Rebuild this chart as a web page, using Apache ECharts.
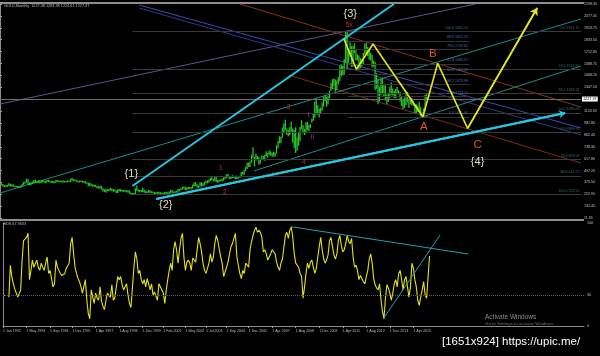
<!DOCTYPE html>
<html><head><meta charset="utf-8">
<script src="https://cdn.jsdelivr.net/npm/echarts@6/dist/echarts.min.js"></script>
<style>html,body{margin:0;padding:0;background:#000;}#c{width:600px;height:356px;}</style>
</head><body><div id="c"></div>
<script>
// ---------- DATA ----------
const startYear = 1992; // bar 0 = Jan 1992, one bar per month
const monthNames = ['Jan','Feb','Mar','Apr','May','Jun','Jul','Aug','Sep','Oct','Nov','Dec'];
const lows = [
351,350,338,333,333,336,342,338,340,337,330,330,
326,326,326,335,355,366,378,355,350,351,365,370,
376,374,376,372,374,383,380,372,383,385,380,375,
372,372,375,387,380,385,381,380,380,381,382,384,
386,397,394,390,388,381,380,384,378,378,369,366,
342,342,347,337,337,333,318,317,318,307,289,283,
276,290,293,298,293,285,287,271,273,287,286,284,
284,285,278,278,266,256,252,252,254,295,288,278,
280,283,276,270,269,274,276,272,270,262,262,265,
263,255,255,255,262,263,265,263,271,275,270,272,
277,281,290,300,307,316,300,302,312,314,314,318,
341,343,327,324,336,342,342,351,371,372,380,393,
399,393,392,385,374,387,391,390,399,413,424,432,
416,412,425,422,414,416,417,429,433,459,459,495,
517,538,539,582,632,543,604,613,562,573,613,614,
603,647,636,664,654,642,647,642,674,729,780,784,
835,887,915,865,851,862,898,786,736,681,705,755,
800,923,881,865,880,913,904,935,994,1008,1042,1075,
1073,1045,1088,1114,1154,1208,1155,1176,1241,1316,1334,1363,
1308,1326,1381,1418,1463,1478,1480,1603,1535,1605,1668,1562,
1562,1699,1626,1627,1526,1547,1564,1590,1687,1693,1671,1635,
1626,1555,1562,1321,1338,1180,1207,1273,1291,1250,1221,1183,
1202,1240,1277,1268,1240,1240,1281,1280,1207,1161,1131,1142,
1167,1198,1142,1178,1170,1162,1077,1081,1099,1112,1053,1046,
1061,1107,1224];
const highs = [
362,360,355,344,341,345,362,359,351,349,339,337,
334,334,338,358,378,381,409,406,372,373,378,395,
397,386,392,390,389,396,389,388,396,396,390,385,
384,379,396,395,390,391,389,389,386,386,389,389,
409,418,405,400,394,390,387,389,387,385,384,373,
369,366,359,349,350,345,336,332,336,335,312,300,
306,303,302,315,309,302,297,290,300,304,302,296,
293,293,290,291,290,267,263,262,310,338,300,294,
294,316,298,286,278,294,290,281,277,274,270,275,
273,270,268,265,273,275,270,278,295,294,279,281,
283,302,304,311,327,328,323,318,327,324,323,350,
370,374,352,340,372,372,362,377,391,392,400,417,
428,409,427,428,396,400,399,413,420,433,454,456,
429,436,445,437,431,441,430,438,476,479,499,530,
574,572,584,654,730,630,663,644,631,613,649,640,
653,690,670,697,686,674,684,677,749,791,842,837,
932,975,1011,920,903,933,989,921,905,935,830,882,
937,1006,958,917,984,990,960,966,1018,1070,1195,1227,
1162,1125,1135,1184,1249,1265,1244,1254,1307,1388,1424,1431,
1422,1413,1447,1563,1577,1560,1632,1913,1920,1729,1803,1763,
1764,1791,1718,1678,1667,1641,1629,1692,1790,1796,1754,1723,
1694,1675,1616,1604,1487,1424,1348,1433,1434,1362,1362,1267,
1280,1345,1392,1331,1306,1326,1345,1312,1294,1255,1224,1238,
1307,1294,1224,1224,1232,1205,1175,1170,1157,1191,1142,1088,
1128,1263,1283];
const oscValues = [null,null,null,null,
28,59,48,41,36,32,28,27,35,64,
83,83,86,90,45,54,64,57,57,64,
57,54,61,57,54,61,67,51,54,54,
38,41,64,57,54,51,49,48,51,56,
57,61,80,86,70,57,51,46,43,38,
32,33,45,25,12,7,35,28,22,32,
27,25,38,24,19,16,25,32,30,28,
40,25,27,28,48,45,48,40,35,38,
41,30,22,18,17,57,72,65,51,54,
45,41,45,38,46,41,35,41,30,33,
33,25,41,40,35,32,22,35,45,54,
61,54,74,82,74,61,74,85,90,67,
54,62,64,61,54,66,66,62,61,86,
80,72,61,54,51,56,61,70,62,67,
80,88,83,75,67,61,48,49,57,62,
70,77,80,85,90,67,59,51,46,54,
51,61,62,57,75,82,88,93,96,91,
93,91,86,72,74,70,64,67,70,74,
75,70,62,57,54,61,65,77,88,91,
85,93,96,86,70,61,62,57,51,48,
27,38,51,61,56,62,64,57,51,56,
67,77,86,74,65,61,64,69,83,86,
77,69,65,70,83,88,78,72,74,80,
88,82,80,85,67,57,59,54,45,49,
48,43,41,48,54,65,70,61,46,40,
37,35,41,25,14,7,27,40,37,32,
25,32,41,45,38,51,54,45,35,45,
48,38,28,38,61,56,45,38,25,20,
28,35,43,30,27,48,67.96];
const priceTicks = [11.95,132.40,252.95,375.50,497.20,617.80,738.30,862.40,982.80,1103.30,1347.50,1468.20,1588.75,1712.85,1833.50,1953.75,2077.05,2198.30];
const lastPrice = 1227.37;
const oscTicks = [0, 30, 100];
const oscLevel = 30;
const timeLabels = ['1 Jan 1992','1 May 1993','1 Sep 1994','1 Dec 1995','1 Apr 1997','1 Aug 1998','1 Dec 1999','1 Feb 2001','1 May 2002','1 Jul 2003','1 Sep 2004','1 Dec 2005','1 Apr 2007','1 Aug 2008','1 Dec 2009','1 Apr 2011','1 Aug 2012','1 Dec 2013','1 Apr 2015'];
const titleText = 'GOLD,Monthly  1227.38 1283.38 1224.61 1227.37';
const oscTitle = 'GDS 67.9633';
// trend lines in [monthIndex, price]
const cyanLine1 = [[90.0, 338.9], [267.8, 2198.3]];
const cyanLine2 = [[106.2, 206.1], [384.2, 1084.7]];
const tealLine1 = [[0, 267.4], [395, 2045.1]];
const tealLine2 = [[172.5, 492.1], [395, 1564.9]];
const brownLine1 = [[163.2, 2198.3], [395, 1146.0]];
const brownLine2 = [[196.1, 1472.9], [395, 573.9]];
const blueLine1 = [[94.7, 2188.1], [395, 931.4]];
const blueLine2 = [[94.7, 2157.4], [395, 859.9]];
const slateLine = [[0, 1176.6], [323.3, 2198.3]];
const zigzag = [[233.8,1840.7],[242.3,1531.2],[253.6,1789.6],[287.5,1046.9],[297.6,1592.5],[317.9,928.3],[365.2,2157.4]];
// fibonacci levels
const fib1Range = [236.7, 319.2];
const fib1Prices = [1045.40,1252.11,1379.98,1483.28,1586.57,1733.62,1821.15,1921.15];
const fib1Labels = ['0.0 1045.40','23.6 1252.11','38.2 1379.98','50.0 1483.28','61.8 1586.57','78.6 1733.62','88.6 1821.15','100.0 1921.15'];
const fib2Range = [90, 395];
const fib2Prices = [1921.15,1527.35,1283.74,1086.83,889.91,609.59,442.72,252.50];
const fib2Labels = ['0.0 1921.15','23.6 1527.35','38.2 1283.74','50.0 1086.83','61.8 889.91','78.6 609.59','88.6 442.72','100.0 252.50'];
// wave labels [monthIndex, price, text]
const majorWaves = [[89.3,461.5,'{1}'],[112.7,145,'{2}'],[238.1,2096.1,'{3}'],[324.7,584.1,'{4}']];
const abcWaves = [[288.1,941.7,'A'],[294.2,1687.5,'B'],[324.7,757.8,'C']];
const minorWaves = [[150.2,522.8,'1'],[152.9,277.6,'2'],[196.1,1146.0,'3'],[206.3,584.1,'4'],[237.4,1983.8,'5x']];
const subWaves = [[209.7,1064.3,'i'],[212.4,839.5,'ii']];
// oscillator lines [monthIndex, value]
const oscLine1 = [[195.9,96.4],[316.3,69.9]];
const oscLine2 = [[258.8,7.5],[297.1,88.3]];

// ---------- CHART ----------
const X_MAX = 395;
const barData = lows.map((l, i) => [i, l, highs[i]]);
const oscData = oscValues.map((v, i) => [i, v]);
const timeIdx = timeLabels.map(s => { const p = s.split(' '); return (+p[2] - startYear) * 12 + monthNames.indexOf(p[1]); });
const labelByIdx = {}; timeIdx.forEach((k, j) => labelByIdx[k] = timeLabels[j]);
const FONT = 'Liberation Sans';

function trend(data, color, width, extra) {
  return Object.assign({ type: 'line', xAxisIndex: 0, yAxisIndex: 0, data: data, showSymbol: false, symbol: 'none',
    lineStyle: { color: color, width: width }, silent: true, clip: true, z: 3 }, extra || {});
}
function fibSeries(range, prices, labels, lineColor, textColor) {
  return { type: 'line', xAxisIndex: 0, yAxisIndex: 0, data: [], silent: true, z: 2,
    markLine: { silent: true, symbol: 'none', animation: false,
      lineStyle: { color: lineColor, width: 1, type: 'solid' },
      label: { show: true, position: 'insideEndTop', formatter: '{b}', color: textColor, fontSize: 3.6, fontFamily: FONT, distance: 1.5 },
      data: prices.map((p, k) => [{ coord: [range[0], p], name: labels[k] }, { coord: [range[1], p] }]) } };
}
function waveSeries(items, color, size) {
  return { type: 'scatter', xAxisIndex: 0, yAxisIndex: 0, symbol: 'circle', symbolSize: 1, silent: true, z: 6,
    itemStyle: { color: 'rgba(0,0,0,0)' },
    labelLayout: { hideOverlap: false },
    data: items.map(w => ({ name: w[2], value: [w[0], w[1]] })),
    label: { show: true, position: 'inside', formatter: p => p.name, color: color, fontSize: size, fontFamily: FONT, opacity: 1 } };
}

const chart = echarts.init(document.getElementById('c'), null, { renderer: 'canvas' });
chart.setOption({
  backgroundColor: '#000000',
  animation: false,
  grid: [
    { left: 0, right: 16, top: 4, height: 214 },
    { left: 0, right: 16, top: 223, height: 103 }
  ],
  xAxis: [
    { type: 'value', gridIndex: 0, min: 0, max: X_MAX, show: false },
    { type: 'value', gridIndex: 1, min: 0, max: X_MAX,
      axisLine: { show: true, lineStyle: { color: '#8c8c8c', width: 1 } },
      axisTick: { show: true, length: 2, customValues: timeIdx, lineStyle: { color: '#9a9a9a' } },
      axisLabel: { customValues: timeIdx, formatter: v => labelByIdx[v] || '', align: 'left', margin: 3,
        fontSize: 3.6, color: '#bdbdbd', fontFamily: FONT },
      splitLine: { show: false } }
  ],
  yAxis: [
    { type: 'value', gridIndex: 0, position: 'right', min: 11.95, max: 2198.30,
      axisLine: { show: true, lineStyle: { color: '#8c8c8c', width: 1 } },
      axisTick: { show: true, length: 2, customValues: priceTicks, lineStyle: { color: '#9a9a9a' } },
      axisLabel: { customValues: priceTicks, formatter: v => v.toFixed(2), margin: 3, fontSize: 3.6, color: '#c4c4c4', fontFamily: FONT },
      splitLine: { show: false } },
    { type: 'value', gridIndex: 1, position: 'right', min: 0, max: 100,
      axisLine: { show: true, lineStyle: { color: '#8c8c8c', width: 1 } },
      axisTick: { show: true, length: 2, customValues: oscTicks, lineStyle: { color: '#9a9a9a' } },
      axisLabel: { customValues: oscTicks, formatter: v => String(v), margin: 3, fontSize: 3.6, color: '#c4c4c4', fontFamily: FONT },
      splitLine: { show: false } }
  ],
  series: [
    fibSeries(fib2Range, fib2Prices, fib2Labels, '#3a3a3a', '#3f6e78'),
    fibSeries(fib1Range, fib1Prices, fib1Labels, '#343434', '#4d68b0'),
    { type: 'line', xAxisIndex: 0, yAxisIndex: 0, data: [], silent: true, z: 2,
      markLine: { silent: true, symbol: 'none', animation: false,
        lineStyle: { color: '#6c6c6c', width: 1, type: 'solid' },
        label: { show: true, position: 'end', formatter: () => lastPrice.toFixed(2), color: '#000', backgroundColor: '#ffffff',
          fontSize: 3.8, fontFamily: FONT, padding: [1, 1, 0, 1], distance: 1 },
        data: [{ yAxis: lastPrice }] } },
    trend(slateLine, '#55588f', 1),
    trend(blueLine1, '#3c4cb0', 1),
    trend(blueLine2, '#2e3a8c', 1),
    trend(brownLine1, '#8a3418', 1),
    trend(brownLine2, '#7a2e14', 1),
    trend(tealLine1, '#1e8c8c', 1),
    trend(tealLine2, '#1e8c8c', 1),
    { type: 'custom', xAxisIndex: 0, yAxisIndex: 0, data: barData, encode: { x: 0, y: [1, 2] }, silent: true, z: 4, clip: true,
      renderItem: (params, api) => {
        const a = api.coord([api.value(0), api.value(1)]);
        const b = api.coord([api.value(0), api.value(2)]);
        return { type: 'line', shape: { x1: a[0], y1: a[1] + 0.5, x2: b[0], y2: b[1] - 0.5 }, style: { stroke: '#26c426', lineWidth: 1.3 } };
      } },
    trend(cyanLine1, '#22c8e0', 2, { z: 5 }),
    trend(cyanLine2, '#22c8e0', 2.2, { z: 5,
      markLine: { silent: true, animation: false, symbol: ['none', 'arrow'], symbolSize: 6, label: { show: false },
        lineStyle: { color: '#22c8e0', width: 2.2, type: 'solid' },
        data: [[{ coord: cyanLine2[0] }, { coord: cyanLine2[1] }]] } }),
    trend(zigzag, '#e4e41c', 1.6, { z: 5,
      markLine: { silent: true, animation: false, symbol: ['none', 'arrow'], symbolSize: 7, label: { show: false },
        lineStyle: { color: '#e4e41c', width: 1.6, type: 'solid' },
        data: [[{ coord: zigzag[zigzag.length - 2] }, { coord: zigzag[zigzag.length - 1] }]] } }),
    waveSeries(majorWaves, '#e6dcc2', 11),
    waveSeries(abcWaves, '#e8532c', 11.5),
    waveSeries(minorWaves, '#dd2a22', 6.5),
    waveSeries(subWaves, '#a040c8', 6.5),
    { type: 'line', xAxisIndex: 1, yAxisIndex: 1, data: oscData, showSymbol: false, symbol: 'none', connectNulls: false, silent: true, z: 4,
      lineStyle: { color: '#e2e21a', width: 1.1 },
      markLine: { silent: true, animation: false, symbol: 'none', label: { show: false },
        lineStyle: { color: '#5a5a5a', width: 1, type: 'dotted' }, data: [{ yAxis: oscLevel }] } },
    { type: 'line', xAxisIndex: 1, yAxisIndex: 1, data: oscLine1, showSymbol: false, symbol: 'none', silent: true, z: 5, lineStyle: { color: '#2a9ea8', width: 1 } },
    { type: 'line', xAxisIndex: 1, yAxisIndex: 1, data: oscLine2, showSymbol: false, symbol: 'none', silent: true, z: 5, lineStyle: { color: '#2a9ea8', width: 1 } }
  ],
  graphic: [
    { type: 'rect', left: 0, top: 2, shape: { width: 584, height: 2 }, style: { fill: '#8e8e8e' }, silent: true },
    { type: 'rect', left: 0, top: 219, shape: { width: 584, height: 2 }, style: { fill: '#8e8e8e' }, silent: true },
    { type: 'text', left: 4, top: 4, style: { text: titleText, fill: '#bdbdbd', fontSize: 3.8, fontFamily: FONT }, silent: true },
    { type: 'text', left: 3, top: 222, style: { text: oscTitle, fill: '#bdbdbd', fontSize: 3.8, fontFamily: FONT }, silent: true },
    { type: 'text', left: 485, top: 314, style: { text: 'Activate Windows', fill: '#8a8a8a', fontSize: 6.5, fontFamily: FONT }, silent: true },
    { type: 'text', left: 485, top: 322, style: { text: 'Go to Settings to activate Windows.', fill: '#707070', fontSize: 4.4, fontFamily: FONT }, silent: true },
    { type: 'text', left: 442, top: 336, style: { text: '[1651x924] https://upic.me/', fill: '#ffffff', fontSize: 11.5, fontFamily: FONT }, silent: true }
  ]
});
</script>
</body></html>
